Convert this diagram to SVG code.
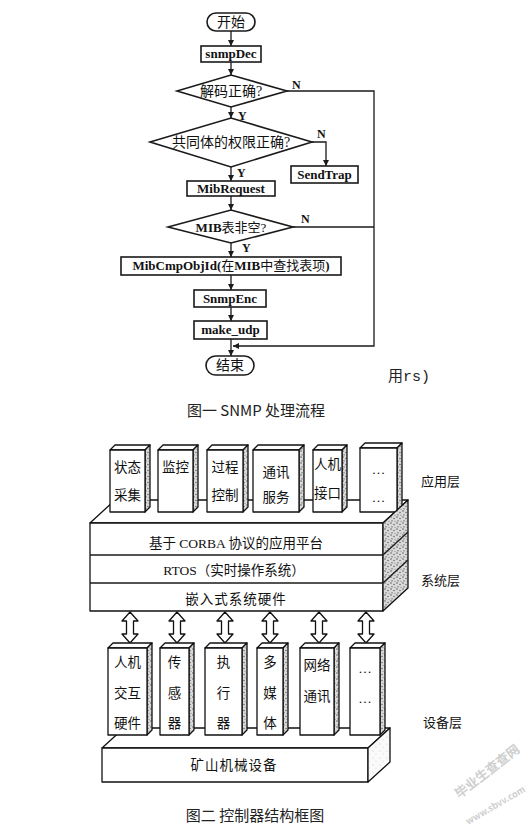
<svg xmlns="http://www.w3.org/2000/svg" width="530" height="829" viewBox="0 0 530 829">
<style>
.fc{fill:#fff;stroke:#1a1a1a;stroke-width:1.6}
.ln{fill:none;stroke:#1a1a1a;stroke-width:1.3}
.ft{font-family:"Liberation Serif","Noto Sans CJK SC",serif;font-weight:bold;font-size:13px;fill:#111;text-anchor:middle}
.fz{font-family:"Liberation Serif","Noto Sans CJK SC",serif;font-weight:normal;font-size:14px;fill:#111;text-anchor:middle}
.cj{font-weight:normal}
.lb{font-family:"Liberation Serif",serif;font-weight:bold;font-size:12px;fill:#111}
.bx{fill:#fff;stroke:#111;stroke-width:1.3;stroke-linejoin:round}
.sd{fill:url(#dots);stroke:#111;stroke-width:1.3;stroke-linejoin:round}
.sl{fill:url(#ldots);stroke:#111;stroke-width:1.3;stroke-linejoin:round}
.bt{font-family:"Liberation Serif","Noto Sans CJK SC",serif;font-size:13.5px;fill:#111;text-anchor:middle}
.side{font-family:"Noto Sans CJK SC",sans-serif;font-size:13px;fill:#111}
.cap{font-family:"Noto Sans CJK SC",sans-serif;font-size:15px;fill:#222;text-anchor:middle}
.wm{font-family:"Noto Sans CJK SC",sans-serif;fill:#cfcfcf;font-weight:bold}
.da{fill:#fff;stroke:#111;stroke-width:1.3;stroke-linejoin:round}
</style>
<defs>
<marker id="ah" markerWidth="8" markerHeight="8" refX="6" refY="3" orient="auto" markerUnits="userSpaceOnUse">
<path d="M0,0 L6,3 L0,6 z" fill="#1a1a1a"/>
</marker>
<pattern id="dots" width="6" height="6" patternUnits="userSpaceOnUse">
<rect width="6" height="6" fill="#dadada"/>
<circle cx="1" cy="1" r="0.7" fill="#444"/>
<circle cx="4" cy="2.5" r="0.7" fill="#555"/>
<circle cx="2" cy="4.8" r="0.6" fill="#333"/>
<circle cx="5" cy="5.2" r="0.5" fill="#666"/>
</pattern>
<pattern id="ldots" width="7" height="7" patternUnits="userSpaceOnUse">
<rect width="7" height="7" fill="#fafafa"/>
<circle cx="2" cy="2" r="0.5" fill="#bbb"/>
<circle cx="5" cy="5" r="0.5" fill="#ccc"/>
</pattern>
</defs>

<!-- ============ Figure 1: flowchart ============ -->
<g id="connectors1">
<line class="ln" x1="231" y1="31" x2="231" y2="46" marker-end="url(#ah)"/>
<line class="ln" x1="231" y1="62" x2="231" y2="75" marker-end="url(#ah)"/>
<line class="ln" x1="231" y1="107" x2="231" y2="118" marker-end="url(#ah)"/>
<line class="ln" x1="231" y1="167" x2="231" y2="181" marker-end="url(#ah)"/>
<line class="ln" x1="231" y1="196" x2="231" y2="210" marker-end="url(#ah)"/>
<line class="ln" x1="231" y1="243" x2="231" y2="257" marker-end="url(#ah)"/>
<line class="ln" x1="231" y1="275" x2="231" y2="290" marker-end="url(#ah)"/>
<line class="ln" x1="231" y1="307" x2="231" y2="321" marker-end="url(#ah)"/>
<line class="ln" x1="231" y1="339" x2="231" y2="356" marker-end="url(#ah)"/>
<polyline class="ln" points="312,142 326,142 326,166" marker-end="url(#ah)"/>
<polyline class="ln" points="287,91 374,91 374,346 233,346" marker-end="url(#ah)"/>
<line class="ln" x1="293" y1="227" x2="374" y2="227"/>
<text class="lb" x="292" y="89">N</text>
<text class="lb" x="238" y="120">Y</text>
<text class="lb" x="317" y="138">N</text>
<text class="lb" x="237" y="177">Y</text>
<text class="lb" x="301" y="223">N</text>
<text class="lb" x="242" y="252">Y</text>
</g>

<g id="start"><rect class="fc" x="207" y="13" width="48" height="18" rx="9"/><text class="fz" x="231" y="27" font-size="13">开始</text></g>
<g id="snmpDec"><rect class="fc" x="201" y="46" width="60" height="16"/><text class="ft" x="231" y="58">snmpDec</text></g>
<g id="decodeOk"><polygon class="fc" points="177,91 231,75 287,91 231,107"/><text class="fz" x="231" y="96">解码正确?</text></g>
<g id="communityOk"><polygon class="fc" points="150,142 231,118 312,142 231,167"/><text class="fz" x="231" y="147">共同体的权限正确?</text></g>
<g id="sendTrap"><rect class="fc" x="291" y="166" width="67" height="17"/><text class="ft" x="324.5" y="179">SendTrap</text></g>
<g id="mibRequest"><rect class="fc" x="187" y="181" width="88" height="15"/><text class="ft" x="231" y="193">MibRequest</text></g>
<g id="mibNotEmpty"><polygon class="fc" points="168,227 231,210 293,227 231,243"/><text class="ft" x="231" y="232" font-size="14">MIB<tspan class="cj">表非空?</tspan></text></g>
<g id="mibCmpObjId"><rect class="fc" x="121" y="257" width="220" height="18"/><text class="ft" x="231" y="270">MibCmpObjId(<tspan class="cj">在</tspan>MIB<tspan class="cj">中查找表项</tspan>)</text></g>
<g id="snmpEnc"><rect class="fc" x="194" y="290" width="72" height="17"/><text class="ft" x="230" y="303">SnmpEnc</text></g>
<g id="makeUdp"><rect class="fc" x="194" y="321" width="73" height="18"/><text class="ft" x="230.5" y="334">make_udp</text></g>
<g id="end"><rect class="fc" x="206" y="356" width="48" height="19" rx="9.5"/><text class="fz" x="230" y="370" font-size="13">结束</text></g>

<text x="388" y="381" font-family="'Liberation Mono','Noto Sans CJK SC',monospace" font-size="15" fill="#222">用rs)</text>
<text class="cap" x="256" y="416">图一 SNMP 处理流程</text>

<!-- ============ Figure 2: controller structure ============ -->
<g id="platformTop"><polygon class="bx" points="90,523 115,500 408,500 383,523"/></g>

<g id="app1">
<polygon class="bx" points="110,450 115,445 150,445 145,450"/>
<polygon class="sd" points="145,450 150,445 150,507 145,512"/>
<rect class="bx" x="110" y="450" width="35" height="62"/>
<text class="bt" x="127.5" y="472">状态</text><text class="bt" x="127.5" y="500">采集</text>
</g>
<g id="app2">
<polygon class="bx" points="158,450 163,445 198,445 193,450"/>
<polygon class="sd" points="193,450 198,445 198,507 193,512"/>
<rect class="bx" x="158" y="450" width="35" height="62"/>
<text class="bt" x="175.5" y="472">监控</text>
</g>
<g id="app3">
<polygon class="bx" points="207,450 212,445 248,445 243,450"/>
<polygon class="sd" points="243,450 248,445 248,507 243,512"/>
<rect class="bx" x="207" y="450" width="36" height="62"/>
<text class="bt" x="225" y="472">过程</text><text class="bt" x="225" y="500">控制</text>
</g>
<g id="app4">
<polygon class="bx" points="253,450 258,445 304,445 299,450"/>
<polygon class="sd" points="299,450 304,445 304,507 299,512"/>
<rect class="bx" x="253" y="450" width="46" height="62"/>
<text class="bt" x="276" y="477">通讯</text><text class="bt" x="276" y="502">服务</text>
</g>
<g id="app5">
<polygon class="bx" points="313,450 318,445 347,445 342,450"/>
<polygon class="sd" points="342,450 347,445 347,507 342,512"/>
<rect class="bx" x="313" y="450" width="29" height="62"/>
<text class="bt" x="327.5" y="469">人机</text><text class="bt" x="327.5" y="498">接口</text>
</g>
<g id="app6">
<polygon class="bx" points="360,448 365,443 402,443 397,448"/>
<polygon class="sd" points="397,448 402,443 402,507 397,512"/>
<rect class="bx" x="360" y="448" width="37" height="64"/>
<text class="bt" x="378.5" y="474">…</text><text class="bt" x="378.5" y="502">…</text>
</g>

<g id="platform">
<rect class="bx" x="90" y="523" width="293" height="88"/>
<line class="ln" x1="90" y1="555" x2="383" y2="555"/>
<line class="ln" x1="90" y1="583" x2="383" y2="583"/>
<polygon class="sd" points="383,523 408,500 408,588 383,611"/>
<line class="ln" x1="383" y1="555" x2="408" y2="532"/>
<line class="ln" x1="383" y1="583" x2="408" y2="560"/>
<text class="bt" x="236" y="548">基于 CORBA 协议的应用平台</text>
<text class="bt" x="234" y="575">RTOS（实时操作系统）</text>
<text class="bt" x="236" y="604" letter-spacing="1">嵌入式系统硬件</text>
</g>

<g id="connectors2">
<polygon class="da" points="130,612 138,621 133.5,621 133.5,634 138,634 130,643 122,634 126.5,634 126.5,621 122,621"/>
<polygon class="da" points="177,612 185,621 180.5,621 180.5,634 185,634 177,643 169,634 173.5,634 173.5,621 169,621"/>
<polygon class="da" points="225,612 233,621 228.5,621 228.5,634 233,634 225,643 217,634 221.5,634 221.5,621 217,621"/>
<polygon class="da" points="270,612 278,621 273.5,621 273.5,634 278,634 270,643 262,634 266.5,634 266.5,621 262,621"/>
<polygon class="da" points="319,612 327,621 322.5,621 322.5,634 327,634 319,643 311,634 315.5,634 315.5,621 311,621"/>
<polygon class="da" points="366,612 374,621 369.5,621 369.5,634 374,634 366,643 358,634 362.5,634 362.5,621 358,621"/>
</g>

<g id="baseTop"><polygon class="bx" points="102,748 124,728 390,728 368,748"/></g>

<g id="dev1">
<polygon class="bx" points="108,648 113,643 152,643 147,648"/>
<polygon class="sd" points="147,648 152,643 152,730 147,735"/>
<rect class="bx" x="108" y="648" width="39" height="87"/>
<text class="bt" x="127.5" y="667">人机</text><text class="bt" x="127.5" y="698">交互</text><text class="bt" x="127.5" y="728">硬件</text>
</g>
<g id="dev2">
<polygon class="bx" points="160,648 165,643 194,643 189,648"/>
<polygon class="sd" points="189,648 194,643 194,730 189,735"/>
<rect class="bx" x="160" y="648" width="29" height="87"/>
<text class="bt" x="174.5" y="667">传</text><text class="bt" x="174.5" y="698">感</text><text class="bt" x="174.5" y="728">器</text>
</g>
<g id="dev3">
<polygon class="bx" points="205,648 210,643 247,643 242,648"/>
<polygon class="sd" points="242,648 247,643 247,730 242,735"/>
<rect class="bx" x="205" y="648" width="37" height="87"/>
<text class="bt" x="223.5" y="667">执</text><text class="bt" x="223.5" y="698">行</text><text class="bt" x="223.5" y="728">器</text>
</g>
<g id="dev4">
<polygon class="bx" points="257,648 262,643 288,643 283,648"/>
<polygon class="sd" points="283,648 288,643 288,730 283,735"/>
<rect class="bx" x="257" y="648" width="26" height="87"/>
<text class="bt" x="270" y="667">多</text><text class="bt" x="270" y="698">媒</text><text class="bt" x="270" y="728">体</text>
</g>
<g id="dev5">
<polygon class="bx" points="300,648 305,643 339,643 334,648"/>
<polygon class="sd" points="334,648 339,643 339,730 334,735"/>
<rect class="bx" x="300" y="648" width="34" height="87"/>
<text class="bt" x="317" y="670">网络</text><text class="bt" x="317" y="701">通讯</text>
</g>
<g id="dev6">
<polygon class="bx" points="350,648 355,643 385,643 380,648"/>
<polygon class="sd" points="380,648 385,643 385,730 380,735"/>
<rect class="bx" x="350" y="648" width="30" height="87"/>
<text class="bt" x="365" y="673">…</text><text class="bt" x="365" y="703">…</text>
</g>

<g id="base">
<rect class="bx" x="102" y="748" width="266" height="34"/>
<polygon class="sl" points="368,748 390,728 390,762 368,782"/>
<text class="bt" x="234" y="770" letter-spacing="1">矿山机械设备</text>
</g>

<text class="side" x="421" y="486">应用层</text>
<text class="side" x="421" y="585">系统层</text>
<text class="side" x="423" y="727">设备层</text>
<text class="cap" x="255" y="821">图二 控制器结构框图</text>

<text class="wm" font-size="13" transform="translate(490,775) rotate(-38)" text-anchor="middle">毕业生查查网</text>
<text class="wm" font-size="9" transform="translate(497,808) rotate(-30)" text-anchor="middle">www.sbvv.com</text>
</svg>
